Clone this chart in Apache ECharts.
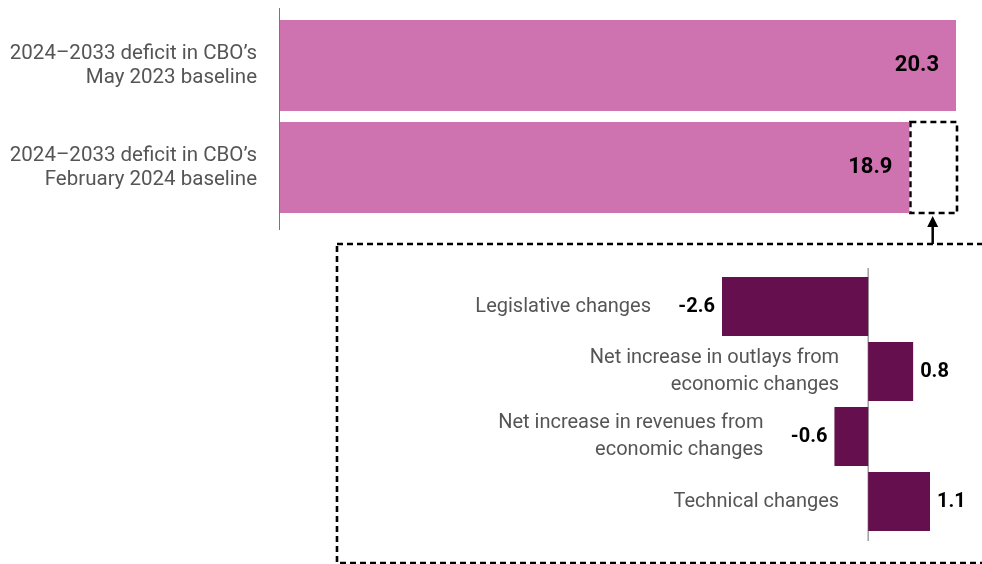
<!DOCTYPE html>
<html>
<head>
<meta charset="utf-8">
<script src="https://cdn.jsdelivr.net/npm/echarts@6/dist/echarts.min.js"></script>
<style>
html,body{margin:0;padding:0;background:#fff;}
#chart{width:982px;height:564px;}
</style>
</head>
<body>
<div id="chart"></div>
<script>
// ---- data ----
var topCategories = ["2024–2033 deficit in CBO’s\nMay 2023 baseline", "2024–2033 deficit in CBO’s\nFebruary 2024 baseline"];
var topValues = [20.3, 18.9];
var changeCategories = ["Legislative changes", "Net increase in outlays from\neconomic changes", "Net increase in revenues from\neconomic changes", "Technical changes"];
var changeValues = [-2.6, 0.8, -0.6, 1.1];

var FONT = 'Roboto, "Noto Sans", sans-serif';
var PINK = '#CF72B0';
var PURPLE = '#660F4F';
var GRAYTXT = '#555555';

var chart = echarts.init(document.getElementById('chart'), null, {renderer: 'canvas'});

var changeLabelData = changeValues.map(function (v) {
  return {
    value: v,
    label: {distance: v < 0 ? 71 : 29}
  };
});

var option = {
  animation: false,
  backgroundColor: '#ffffff',
  grid: [
    {left: 280, right: 26, top: 14.5, height: 204, containLabel: false},
    {left: 722, right: 52, top: 274, height: 260, containLabel: false}
  ],
  xAxis: [
    {gridIndex: 0, type: 'value', min: 0, max: Math.max.apply(null, topValues), show: false},
    {gridIndex: 1, type: 'value', min: Math.min.apply(null, changeValues), max: Math.max.apply(null, changeValues), show: false}
  ],
  yAxis: [
    {
      gridIndex: 0, type: 'category', inverse: true, data: topCategories,
      axisLine: {show: false}, axisTick: {show: false}, splitLine: {show: false},
      axisLabel: {
        margin: 23, fontFamily: FONT, fontSize: 20.5, color: GRAYTXT,
        lineHeight: 24, align: 'right', padding: [0, 0, 4, 0]
      }
    },
    {
      gridIndex: 1, type: 'category', inverse: true, data: changeCategories,
      axisLine: {show: false}, axisTick: {show: false}, splitLine: {show: false},
      axisLabel: {show: false}
    }
  ],
  series: [
    {
      type: 'bar', xAxisIndex: 0, yAxisIndex: 0, data: topValues,
      barWidth: 91, itemStyle: {color: PINK}, silent: true,
      label: {
        show: true, position: 'insideRight', distance: 17,
        fontFamily: FONT, fontWeight: 'bold', fontSize: 22, color: '#000'
      }
    },
    {
      type: 'bar', xAxisIndex: 1, yAxisIndex: 1, data: changeValues,
      barWidth: 59, itemStyle: {color: PURPLE}, silent: true,
      label: {
        show: true, position: 'outside', distance: 7,
        fontFamily: FONT, fontWeight: 'bold', fontSize: 20, color: '#000',
        formatter: function (p) { return p.value.toFixed(1); }
      }
    },
    {
      type: 'bar', xAxisIndex: 1, yAxisIndex: 1, data: changeLabelData,
      barWidth: 59, barGap: '-100%', silent: true,
      itemStyle: {color: 'rgba(0,0,0,0)'},
      label: {
        show: true, position: 'left',
        fontFamily: FONT, fontSize: 20, color: GRAYTXT, lineHeight: 27, align: 'right',
        formatter: function (p) { return changeCategories[p.dataIndex]; }
      }
    }
  ]
};
chart.setOption(option);

// ---- annotations (axis lines, dashed callout boxes, arrow) ----
var z0 = chart.convertToPixel({gridIndex: 0}, [0, 0]);
var z1 = chart.convertToPixel({gridIndex: 1}, [0, 0]);
var pLo = chart.convertToPixel({gridIndex: 0}, [topValues[1], 1]);
var pHi = chart.convertToPixel({gridIndex: 0}, [topValues[0], 1]);
var top2 = pLo[1] - 45.5, bot2 = pLo[1] + 45.5;
var arrowX = (pLo[0] + pHi[0]) / 2;
var boxTop = 244;
var dashStyle = {stroke: '#000', lineWidth: 2.6, lineDash: [6, 4], fill: null};

chart.setOption({
  graphic: [
    {type: 'line', shape: {x1: z0[0] - 0.5, y1: 8, x2: z0[0] - 0.5, y2: 230}, style: {stroke: '#777', lineWidth: 1}, silent: true},
    {type: 'line', shape: {x1: z1[0], y1: 268, x2: z1[0], y2: 541}, style: {stroke: '#888', lineWidth: 1.2}, silent: true},
    {type: 'rect', shape: {x: pLo[0] + 1, y: top2, width: pHi[0] - pLo[0], height: bot2 - top2}, style: dashStyle, silent: true},
    {type: 'rect', shape: {x: 337, y: boxTop, width: 700, height: 319}, style: dashStyle, silent: true},
    {type: 'line', shape: {x1: arrowX, y1: boxTop, x2: arrowX, y2: 224}, style: {stroke: '#000', lineWidth: 2.5}, silent: true},
    {type: 'polygon', shape: {points: [[arrowX, 216], [arrowX - 5.5, 227], [arrowX + 5.5, 227]]}, style: {fill: '#000'}, silent: true}
  ]
});
</script>
</body>
</html>
